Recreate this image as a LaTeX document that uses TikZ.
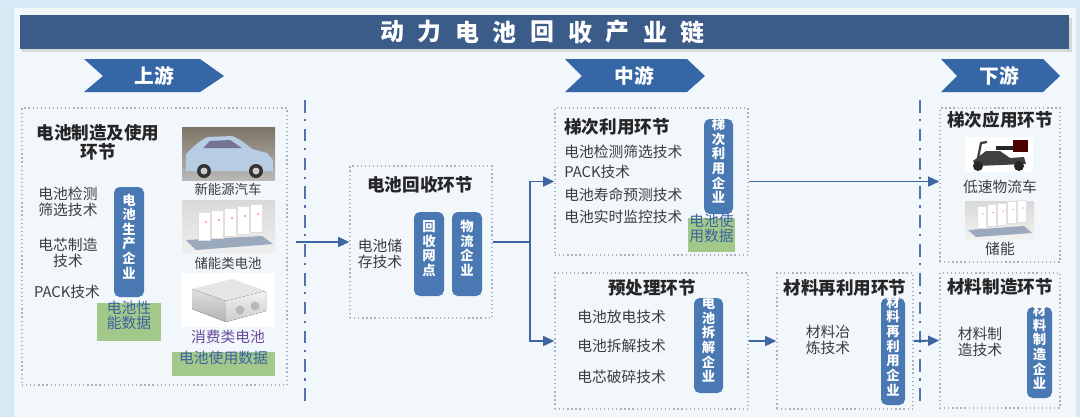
\documentclass[tikz,border=0pt]{standalone}
\usepackage{fontspec}
\setmainfont{Noto Sans CJK SC}
\usetikzlibrary{arrows.meta,fit,positioning}
\lineskiplimit=-\maxdimen
\definecolor{barblue}{HTML}{4A78B3}
\definecolor{headblue}{HTML}{3B5B88}
\definecolor{chevblue}{HTML}{3566A5}
\definecolor{flowblue}{HTML}{3E66A2}
\definecolor{datagreen}{HTML}{A2C98A}
\definecolor{datatext}{HTML}{3A62A0}
\definecolor{txtgray}{HTML}{3C3C3C}
\definecolor{dotgray}{HTML}{A8B2BE}
\definecolor{bgout}{HTML}{D8E9F6}
\definecolor{bgin}{HTML}{F2F7FC}
\definecolor{consumer}{HTML}{6A4C9C}
\definecolor{carblue}{HTML}{B7CDE4}
\definecolor{photobrown}{HTML}{7E7466}
\definecolor{platgray}{HTML}{9AA9BC}
\begin{document}
\begin{tikzpicture}[x=0.025cm,y=-0.025cm,
  panel/.style={draw=dotgray,dotted,line width=0.9pt,inner sep=0pt},
  bar/.style={fill=barblue,rounded corners=4pt,text=white,align=center,inner sep=0pt,font=\fontsize{9.5}{10.4}\selectfont\bfseries},
  databox/.style={fill=datagreen,text=datatext,align=center,inner sep=0pt,font=\fontsize{10.5}{10.8}\selectfont},
  sectitle/.style={text=black!85,align=center,inner sep=0pt,font=\fontsize{12.5}{13.5}\selectfont\bfseries},
  tech/.style={text=txtgray,align=center,inner sep=0pt,font=\fontsize{10.5}{11.8}\selectfont},
  techline/.style={tech,anchor=west},
  caption/.style={text=txtgray,inner sep=0pt,font=\fontsize{9.5}{10}\selectfont},
  stage/.style={text=white,inner sep=0pt,font=\fontsize{14}{14}\selectfont\bfseries},
  flow/.style={draw=flowblue,line width=1.4pt,-{Triangle[length=8pt,width=7pt]}},
  divider/.style={draw=flowblue!90,line width=1.8pt,dash pattern=on 9pt off 4.5pt on 1.5pt off 5.5pt}]
\useasboundingbox (0,0) rectangle (1080,417);
\fill[bgout] (0,0) rectangle (1080,417);
\fill[bgin] (14,8) rectangle (1076,417);
% title bar
\fill[gray!45,opacity=0.6] (22,18) rectangle (1072,52);
\fill[headblue] (20,15) rectangle (1069,49);
\foreach \c [count=\i from 0] in {动,力,电,池,回,收,产,业,链}
  \node[text=white,inner sep=0pt,font=\fontsize{17}{17}\selectfont\bfseries] (title\i) at (392+37.6*\i,32) {\c};
% stages
\fill[chevblue] (84,59) -- (200,59) -- (224,76) -- (200,92) -- (84,92) -- (103,76) -- cycle;
\node[stage] (upstream) at (154,76) {上游};
\fill[chevblue] (565,59) -- (687,59) -- (705,76) -- (687,92) -- (565,92) -- (582,76) -- cycle;
\node[stage] (midstream) at (634,76) {中游};
\fill[chevblue] (941,59) -- (1043,59) -- (1060,76) -- (1043,92) -- (941,92) -- (957,76) -- cycle;
\node[stage] (downstream) at (999,76) {下游};
\draw[divider] (305,100) -- (305,402);
\draw[divider] (920,100) -- (920,402);

% upstream panel
\node[panel, fit={(22,108) (287,385)}] (up) {};
\node[sectitle] (uptitle) at (98,142) {电池制造及使用\\环节};
\node[tech] (t1) at (68,202) {电池检测\\筛选技术};
\node[tech] (t2) at (68,253) {电芯制造\\技术};
\node[tech] (t3) at (67,292) {PACK技术};
\node[bar, fit={(114,187) (144,297)}] (prodco) {电\\池\\生\\产\\企\\业};
\node[databox, fit={(97,303) (161,341)}] (perfdata) {电池性\\能数据};
% car photo
\fill[top color=photobrown, bottom color=gray!55] (182,127) rectangle (275,180);
\fill[carblue] (186,171) -- (186,154) .. controls (194,146) and (200,140) .. (208,137) -- (232,136) .. controls (240,139) and (246,144) .. (252,149) -- (267,153) -- (273,160) -- (273,171) -- cycle;
\fill[blue!25!black!55] (203,148) -- (210,141) -- (230,140) -- (242,148) -- cycle;
\foreach \wx in {204,256} {
  \fill[black!80] (\wx,171) circle[radius=7];
  \fill[gray!40] (\wx,171) circle[radius=3.5];
}
\node[caption] (carcap) at (228,189) {新能源汽车};
% storage photo
\fill[top color=gray!30, bottom color=gray!12] (182,200) rectangle (275,253);
\fill[platgray] (186,240) -- (262,236) -- (273,244) -- (196,250) -- cycle;
\foreach \k in {0,...,4} {
  \fill[white,draw=gray!25] (198+13*\k,212-2*\k) rectangle ++(12,28);
  \fill[red!70] (206+13*\k,222-2*\k) circle[radius=0.8];
}
\node[caption] (esscap) at (228,263) {储能类电池};
% cell photo
\fill[white] (182,273) rectangle (275,327);
\fill[gray!20] (192,289) -- (232,279) -- (266,291) -- (226,301) -- cycle;
\fill[top color=gray!25, bottom color=gray!60] (192,289) -- (226,301) -- (226,322) -- (192,309) -- cycle;
\fill[top color=gray!10, bottom color=gray!40] (226,301) -- (266,291) -- (266,311) -- (226,322) -- cycle;
\fill[gray!55] (240,310) circle[radius=4.5];
\fill[gray!55] (255,306) circle[radius=4.5];
\node[caption, text=consumer, font=\fontsize{10.5}{11}\selectfont] (cellcap) at (228,337) {消费类电池};
\node[databox, fit={(172,352) (275,376)}] (usedata) {电池使用数据};

% recycling
\node[panel, fit={(350,166) (492,318)}] (rec) {};
\node[sectitle] (rectitle) at (420,185) {电池回收环节};
\node[tech] (t4) at (380,254) {电池储\\存技术};
\node[bar, fit={(414,212) (444,296)}] (netco) {回\\收\\网\\点};
\node[bar, fit={(452,212) (482,296)}] (logco) {物\\流\\企\\业};

% cascade use
\node[panel, fit={(555,108) (748,255)}] (cas) {};
\node[sectitle, anchor=west] (castitle) at (564,127) {梯次利用环节};
\node[techline] (t5) at (564,152) {电池检测筛选技术};
\node[techline] (t6) at (564,172) {PACK技术};
\node[techline] (t7) at (564,195) {电池寿命预测技术};
\node[techline] (t8) at (564,217) {电池实时监控技术};
\node[bar, fit={(704,119) (733,214)}] (casco) {梯\\次\\利\\用\\企\\业};
\node[databox, fit={(688,218) (735,252)}] (casdata) {电池使\\用数据};

% pretreatment
\node[panel, fit={(555,273) (748,409)}] (pre) {};
\node[sectitle] (pretitle) at (652,288) {预处理环节};
\node[techline] (t9) at (577,317) {电池放电技术};
\node[techline] (t10) at (577,346) {电池拆解技术};
\node[techline] (t11) at (577,377) {电芯破碎技术};
\node[bar, fit={(694,298) (723,393)}] (disco) {电\\池\\拆\\解\\企\\业};

% material reuse
\node[panel, fit={(777,273) (913,409)}] (mat) {};
\node[sectitle] (mattitle) at (845,288) {材料再利用环节};
\node[tech] (t12) at (828,340) {材料冶\\炼技术};
\node[bar, fit={(881,298) (905,405)}] (matco) {材\\料\\再\\利\\用\\企\\业};

% downstream
\node[panel, fit={(940,108) (1060,262)}] (dcas) {};
\node[sectitle] (dcastitle) at (1000,120) {梯次应用环节};
\fill[white] (965,137) rectangle (1033,172);
\fill[black!75] (973,161) -- (986,151) -- (1000,151) -- (1010,158) -- (1024,157) -- (1026,164) -- (976,166) -- cycle;
\draw[black!75,line width=1.6pt] (977,163) -- (981,143) -- (987,142);
\fill[black!85] (996,146) rectangle (1014,150);
\fill[black!70!red] (1013,140) rectangle (1028,152);
\foreach \wx in {978,1019} \fill[black!85] (\wx,166) circle[radius=5];
\node[tech] (scootcap) at (1000,187) {低速物流车};
\fill[top color=gray!30, bottom color=gray!10] (965,201) rectangle (1034,239);
\fill[platgray] (968,230) -- (1024,226) -- (1032,233) -- (976,237) -- cycle;
\foreach \k in {0,...,4} {
  \fill[white,draw=gray!25] (977+10*\k,206-1.5*\k) rectangle ++(9,22);
  \fill[red!70] (983+10*\k,214-1.5*\k) circle[radius=0.7];
}
\node[tech] (esscap2) at (1000,249) {储能};
\node[panel, fit={(940,273) (1060,408)}] (dmat) {};
\node[sectitle] (dmattitle) at (1000,287) {材料制造环节};
\node[tech] (t13) at (980,342) {材料制\\造技术};
\node[bar, fit={(1027,307) (1052,398)}] (dmatco) {材\\料\\制\\造\\企\\业};

% connectors
\coordinate (upout) at (296,242);
\coordinate (split) at (530,242);
\draw[flow] (upout) -- (rec.west |- upout);
\draw[flow,-] (rec.east) -- (split);
\draw[flow] (split) |- (cas.west);
\draw[flow] (split) |- (pre.west);
\draw[flow] (cas.east) -- (cas.east -| dcas.west);
\draw[flow] (pre.east) -- (mat.west);
\draw[flow] (mat.east) -- (dmat.west);
\end{tikzpicture}
\end{document}
